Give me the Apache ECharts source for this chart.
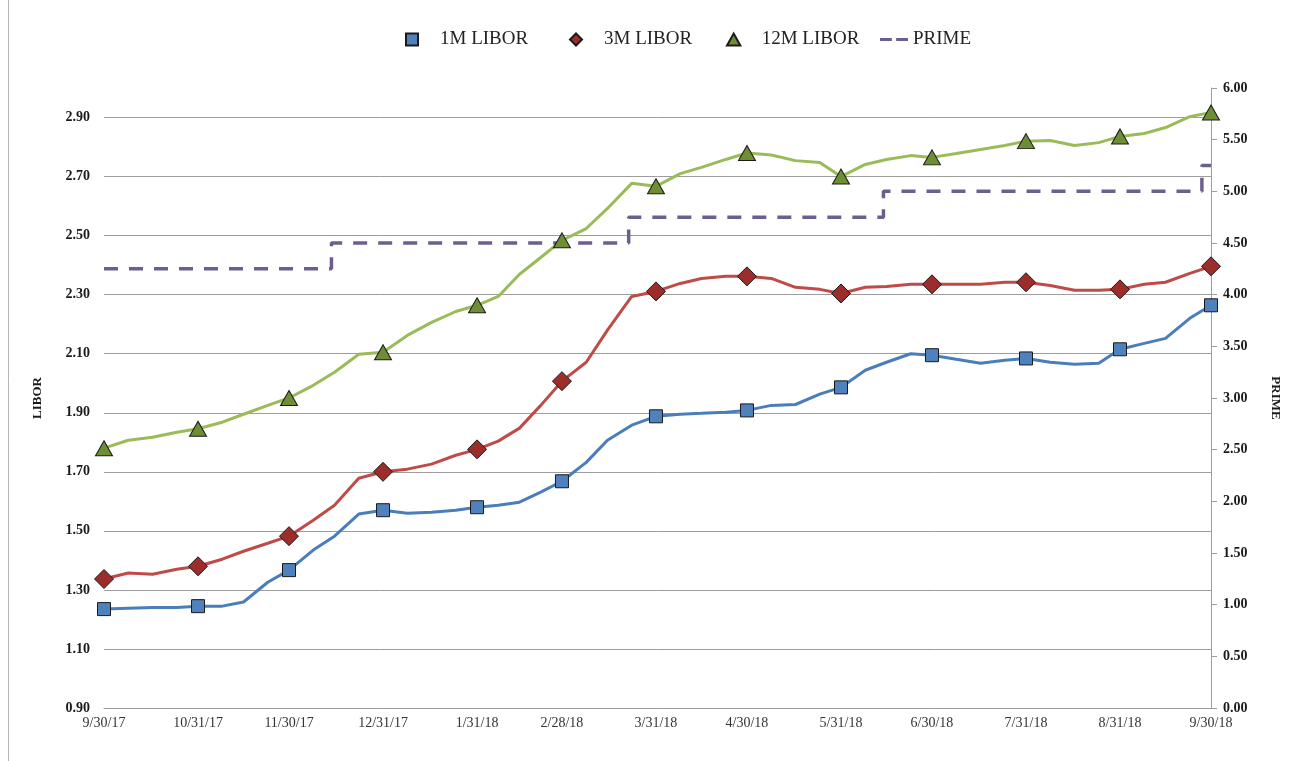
<!DOCTYPE html>
<html><head><meta charset="utf-8">
<script src="https://cdn.jsdelivr.net/npm/echarts@6/dist/echarts.min.js"></script>
<style>html,body{margin:0;padding:0;background:#fff}#c{width:1309px;height:761px}</style>
</head><body><div id="c"></div>
<script>
// ---- data ----
const dates = ['2017-09-30','2017-10-08','2017-10-16','2017-10-24','2017-10-31','2017-11-08','2017-11-15','2017-11-23','2017-11-30',
  '2017-12-08','2017-12-15','2017-12-23','2017-12-31','2018-01-08','2018-01-16','2018-01-24','2018-01-31',
  '2018-02-07','2018-02-14','2018-02-21','2018-02-28','2018-03-08','2018-03-15','2018-03-23','2018-03-31',
  '2018-04-08','2018-04-15','2018-04-23','2018-04-30','2018-05-08','2018-05-16','2018-05-24','2018-05-31',
  '2018-06-08','2018-06-15','2018-06-23','2018-06-30','2018-07-08','2018-07-16','2018-07-24','2018-07-31',
  '2018-08-08','2018-08-16','2018-08-24','2018-08-31','2018-09-08','2018-09-15','2018-09-23','2018-09-30'];
const libor1M = [1.235,1.238,1.240,1.240,1.245,1.245,1.259,1.326,1.367,
  1.435,1.482,1.557,1.570,1.560,1.563,1.570,1.580,
  1.587,1.597,1.631,1.668,1.732,1.807,1.858,1.888,
  1.895,1.898,1.902,1.908,1.925,1.928,1.963,1.986,
  2.044,2.071,2.100,2.095,2.081,2.068,2.078,2.084,
  2.071,2.064,2.068,2.115,2.135,2.152,2.220,2.264];
const libor3M = [1.337,1.357,1.353,1.370,1.380,1.404,1.431,1.458,1.482,
  1.536,1.587,1.678,1.700,1.709,1.726,1.756,1.776,
  1.804,1.848,1.925,2.007,2.071,2.180,2.294,2.311,
  2.338,2.355,2.362,2.362,2.355,2.325,2.318,2.304,
  2.325,2.328,2.335,2.335,2.335,2.335,2.342,2.342,
  2.331,2.315,2.315,2.318,2.335,2.342,2.372,2.396];
const libor12M = [1.780,1.807,1.817,1.834,1.846,1.868,1.895,1.925,1.950,
  1.993,2.037,2.098,2.105,2.162,2.206,2.243,2.264,
  2.294,2.369,2.426,2.484,2.524,2.592,2.677,2.667,
  2.710,2.731,2.758,2.780,2.773,2.754,2.748,2.700,
  2.741,2.758,2.771,2.765,2.778,2.792,2.805,2.820,
  2.822,2.805,2.815,2.836,2.846,2.866,2.903,2.917];
const primeDates = ['2017-09-30','2017-12-14','2018-03-22','2018-06-14','2018-09-27','2018-09-30'];
const primeRate = [4.25,4.50,4.75,5.00,5.25,5.25];
const tickDates = ['2017-09-30','2017-10-31','2017-11-30','2017-12-31','2018-01-31','2018-02-28','2018-03-31',
  '2018-04-30','2018-05-31','2018-06-30','2018-07-31','2018-08-31','2018-09-30'];

// ---- helpers ----
function ts(s){ const p = s.split('-').map(Number); return new Date(p[0], p[1]-1, p[2]).getTime(); }
function fmtDate(v){ const d = new Date(v); return (d.getMonth()+1) + '/' + d.getDate() + '/' + String(d.getFullYear()).slice(2); }
const tickSet = new Set(tickDates);
const FONT = 'Liberation Serif';

function liborSeries(name, values, symbol, size, fill, line){
  return {
    name, type:'line', yAxisIndex:0, symbol, symbolSize:size, showAllSymbol:true,
    lineStyle:{color:line, width:3}, itemStyle:{color:fill, borderColor:'#1a1a1a', borderWidth:1},
    emphasis:{disabled:true},
    data: dates.map((d,i)=>{ const it = {value:[ts(d), values[i]]}; if(!tickSet.has(d)) it.symbol='none'; return it; })
  };
}

const ICON_SQ = 'path://M0,0h10v10h-10z';
const ICON_DI = 'path://M5,0L10,5L5,10L0,5z';
const ICON_TR = 'path://M5,0L10,9L0,9z';
const ICON_DASH = 'path://M0,0h11v3h-11zM15,0h11v3h-11z';

function legendItem(name, icon, left, textPad){
  return {
    left, top:30, padding:0, itemWidth:28, itemHeight:12, selectedMode:false,
    textStyle:{fontFamily:FONT, fontSize:19, color:'#222', padding:[0,0,0,textPad]},
    data:[{name, icon}]
  };
}

const chart = echarts.init(document.getElementById('c'), null, {renderer:'canvas'});
chart.setOption({
  animation:false,
  backgroundColor:'#fff',
  graphic:[{type:'line', shape:{x1:8.5,y1:0,x2:8.5,y2:761}, style:{stroke:'#b5b5b5', lineWidth:1}}],
  legend:[
    legendItem('1M LIBOR', ICON_SQ, 405, 9),
    legendItem('3M LIBOR', ICON_DI, 569, 9),
    legendItem('12M LIBOR', ICON_TR, 726, 9),
    legendItem('PRIME', ICON_DASH, 880, 0)
  ],
  grid:{left:104, right:98, top:88, bottom:53},
  xAxis:{
    type:'value', min:ts(tickDates[0]), max:ts(tickDates[tickDates.length-1]),
    axisLine:{show:true, lineStyle:{color:'#9d9d9d', width:1}},
    axisTick:{show:false}, splitLine:{show:false},
    axisLabel:{customValues:tickDates.map(ts), formatter:fmtDate, fontFamily:FONT, fontSize:14, color:'#333', margin:8, hideOverlap:false, showMinLabel:true, showMaxLabel:true}
  },
  yAxis:[
    {
      type:'value', position:'left', min:0.9, max:3.0, interval:0.2,
      axisLine:{show:false}, axisTick:{show:false},
      splitLine:{show:true, showMaxLine:false, lineStyle:{color:'#9d9d9d', width:1}},
      axisLabel:{formatter:v=>v.toFixed(2), showMaxLabel:false, fontFamily:FONT, fontWeight:'bold', fontSize:14, color:'#1a1a1a', margin:14},
      name:'LIBOR', nameLocation:'middle', nameGap:60, nameRotate:90,
      nameTextStyle:{fontFamily:FONT, fontWeight:'bold', fontSize:13, color:'#1a1a1a'}
    },
    {
      type:'value', position:'right', min:0, max:6, interval:0.5,
      axisLine:{show:true, lineStyle:{color:'#9d9d9d', width:1}},
      axisTick:{show:true, inside:false, length:6, lineStyle:{color:'#9d9d9d'}},
      splitLine:{show:false},
      axisLabel:{formatter:v=>v.toFixed(2), fontFamily:FONT, fontWeight:'bold', fontSize:14, color:'#1a1a1a', margin:12},
      name:'PRIME', nameLocation:'middle', nameGap:58, nameRotate:-90,
      nameTextStyle:{fontFamily:FONT, fontWeight:'bold', fontSize:13, color:'#1a1a1a'}
    }
  ],
  series:[
    liborSeries('1M LIBOR', libor1M, 'rect', 13, '#4F81BD', '#4A7EBB'),
    liborSeries('3M LIBOR', libor3M, 'diamond', 19, '#9B2D2A', '#BE4B48'),
    liborSeries('12M LIBOR', libor12M, 'triangle', [17,15], '#6E8E35', '#9BBB59'),
    {
      name:'PRIME', type:'line', yAxisIndex:1, step:'end', symbol:'none',
      lineStyle:{color:'#6d5f8d', width:3.5, type:[14,11]},
      itemStyle:{color:'#6d5f8d', borderWidth:0},
      emphasis:{disabled:true},
      data: primeDates.map((d,i)=>[ts(d), primeRate[i]])
    }
  ]
});
</script></body></html>
